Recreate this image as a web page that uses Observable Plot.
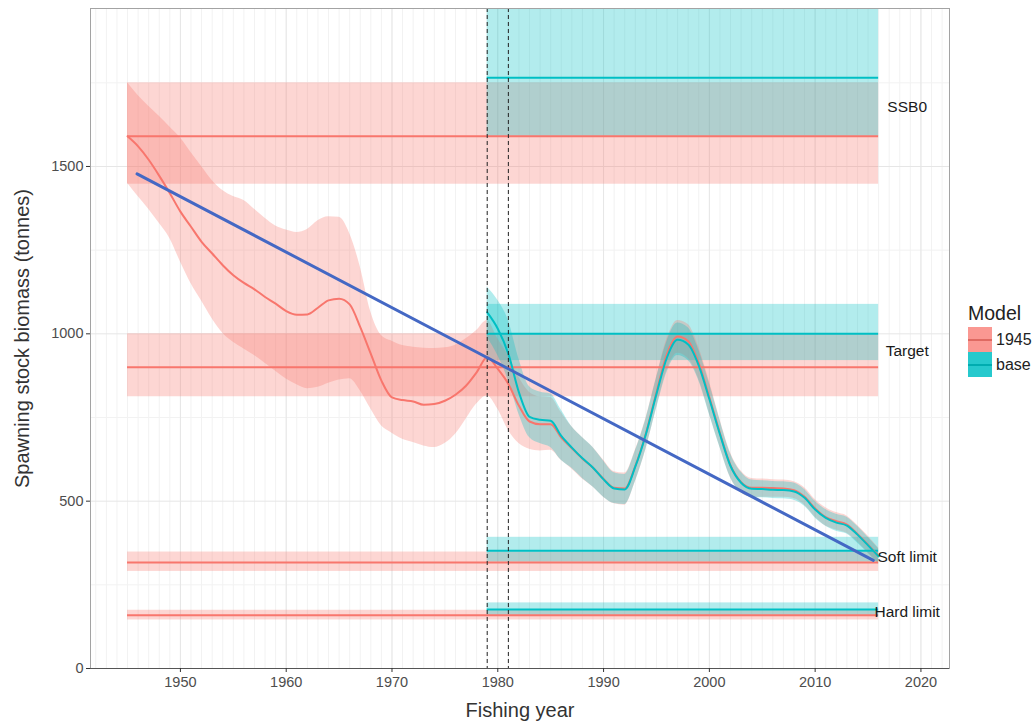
<!DOCTYPE html>
<html>
<head>
<meta charset="utf-8">
<script src="https://cdn.jsdelivr.net/npm/d3@7"></script>
<script src="https://cdn.jsdelivr.net/npm/@observablehq/plot@0.6"></script>
<style>
  body { margin: 0; background: #fff; font-family: "Liberation Sans", Arial, sans-serif; }
  #wrap { position: relative; width: 1033px; height: 724px; overflow: hidden; }
  #legend { position: absolute; left: 968px; top: 301px; color: #222; white-space: nowrap; }
  #legend .title { font-size: 19.5px; line-height: 24px; margin-bottom: 2px; }
  #legend .row { display: flex; align-items: center; height: 25px; }
  #legend .key { position: relative; width: 24px; height: 25px; margin-right: 4px; }
  #legend .key .ln { position: absolute; left: 0; right: 0; top: 11.5px; height: 2.5px; }
  #legend .lab { font-size: 16px; color: #222; }
</style>
</head>
<body>
<div id="wrap"></div>
<script>
// ---- Data ----
const models = ["1945", "base"];
const modelColors = ["#F8766D", "#00BFC4"];

// Model "1945" biomass series
const years1945 = [1945,1946,1947,1948,1949,1950,1951,1952,1953,1954,1955,1956,1957,1958,1959,1960,1961,1962,1963,1964,1965,1966,1967,1968,1969,1970,1971,1972,1973,1974,1975,1976,1977,1978,1979,1980,1981,1982,1983,1984,1985,1986,1987,1988,1989,1990,1991,1992,1993,1994,1995,1996,1997,1998,1999,2000,2001,2002,2003,2004,2005,2006,2007,2008,2009,2010,2011,2012,2013,2014,2015,2016];
const ssb1945 = [1590,1560,1520,1472,1420,1365,1320,1275,1240,1205,1175,1152,1133,1110,1090,1068,1057,1058,1078,1100,1105,1088,1020,940,860,810,802,798,788,790,800,818,845,885,930,895,850,785,738,730,730,690,658,627,600,566,540,538,605,702,825,940,992,978,912,810,703,607,557,540,540,539,538,533,513,478,452,440,430,402,370,336];
const hi1945 = [1750,1712,1680,1650,1618,1585,1542,1500,1458,1428,1410,1398,1372,1345,1322,1310,1303,1312,1338,1350,1348,1300,1200,1065,995,978,965,960,957,956,958,966,985,1010,1040,985,935,870,825,812,810,765,722,690,660,622,588,584,652,748,870,985,1040,1028,960,858,745,645,590,568,566,564,563,558,540,505,480,466,456,428,396,360];
const lo1945 = [1450,1410,1372,1330,1285,1215,1150,1098,1045,1002,975,955,935,912,888,865,848,836,840,852,862,866,830,775,725,703,685,675,665,660,672,700,745,790,815,775,712,672,655,650,652,622,596,566,542,512,492,488,558,654,778,892,942,926,864,762,662,570,525,512,512,512,512,508,488,452,426,414,404,378,346,312];

// Model "base" biomass series
const yearsBase = [1979,1980,1981,1982,1983,1984,1985,1986,1987,1988,1989,1990,1991,1992,1993,1994,1995,1996,1997,1998,1999,2000,2001,2002,2003,2004,2005,2006,2007,2008,2009,2010,2011,2012,2013,2014,2015,2016];
const ssbBase = [1064,1015,940,825,752,743,740,695,660,628,600,565,538,535,603,700,820,930,982,968,905,805,700,605,555,537,536,534,533,529,510,475,450,436,427,400,368,335];
const hiBase = [1140,1100,1040,925,842,826,820,772,722,690,660,620,585,580,650,745,868,978,1032,1018,952,852,742,642,587,563,561,559,558,554,535,500,475,461,452,425,392,358];
const loBase = [990,935,860,760,690,672,660,622,598,568,542,512,493,490,558,655,775,885,935,920,860,760,660,570,525,512,510,508,507,503,485,450,425,410,402,375,344,312];

// Reference points (SSB0, Target, Soft limit, Hard limit) per model
const refNames = ["SSB0", "Target", "Soft limit", "Hard limit"];
const refModel = ["1945","1945","1945","1945","base","base","base","base"];
const refName = ["SSB0","Target","Soft limit","Hard limit","SSB0","Target","Soft limit","Hard limit"];
const refValue = [1590, 900, 317, 159, 1765, 1000, 352, 176];
const refLow = [1447, 812, 290, 145, 1590, 920, 318, 159];
const refHigh = [1750, 1000, 348, 174, 1972, 1088, 392, 196];
const refStart = [1945, 1945, 1945, 1945, 1979, 1979, 1979, 1979];
const refEnd = [2016, 2016, 2016, 2016, 2016, 2016, 2016, 2016];
const labelYear = 2018.7;

// Dashed markers and overlaid trend line
const dashYears = [1979, 1981];
const trendYears = [1945.9, 2015.5];
const trendValues = [1478, 323];

// Axes
const xDomain = [1941.5, 2022.7];
const yDomain = [0, 1972];
const xTicks = [1950, 1960, 1970, 1980, 1990, 2000, 2010, 2020];
const yTicks = [0, 500, 1000, 1500];
const yMinor = [250, 750, 1250, 1750];
const xMinor = d3.range(1942, 2023);

// ---- Tables built from arrays ----
const series = [
  ...years1945.map((y, i) => ({model: "1945", year: y, ssb: ssb1945[i], lo: lo1945[i], hi: hi1945[i]})),
  ...yearsBase.map((y, i) => ({model: "base", year: y, ssb: ssbBase[i], lo: loBase[i], hi: hiBase[i]}))
];
const refs = refModel.map((m, i) => ({model: m, name: refName[i], value: refValue[i], lo: refLow[i], hi: refHigh[i], start: refStart[i], end: refEnd[i]}));
const labels = refNames.map(n => ({name: n, value: d3.mean(refs.filter(r => r.name === n), r => r.value)}));
const trend = trendYears.map((y, i) => ({year: y, value: trendValues[i]}));

const chart = Plot.plot({
  width: 1033,
  height: 724,
  marginLeft: 90,
  marginRight: 84,
  marginTop: 8,
  marginBottom: 56,
  style: {fontFamily: "'Liberation Sans', Arial, sans-serif", background: "white"},
  x: {domain: xDomain},
  y: {domain: yDomain},
  color: {domain: models, range: modelColors},
  marks: [
    Plot.ruleX(xMinor, {stroke: "#f2f2f2", strokeWidth: 1}),
    Plot.ruleY(yMinor, {stroke: "#f2f2f2", strokeWidth: 1}),
    Plot.ruleX(xTicks, {stroke: "#e6e6e6", strokeWidth: 1}),
    Plot.ruleY(yTicks, {stroke: "#e6e6e6", strokeWidth: 1}),
    Plot.rect(refs, {x1: "start", x2: "end", y1: "lo", y2: "hi", fill: "model", fillOpacity: 0.3}),
    Plot.areaY(series, {x: "year", y1: "lo", y2: "hi", z: "model", fill: "model", fillOpacity: 0.3, curve: "monotone-x"}),
    Plot.ruleY(refs, {y: "value", x1: "start", x2: "end", stroke: "model", strokeWidth: 2}),
    Plot.line(series, {x: "year", y: "ssb", z: "model", stroke: "model", strokeWidth: 2, curve: "monotone-x"}),
    Plot.ruleX(dashYears, {stroke: "#222", strokeWidth: 1, strokeDasharray: "4,3"}),
    Plot.text(labels, {x: labelYear, y: "value", text: "name", fontSize: 15.5, fill: "#1a1a1a", textAnchor: "middle"}),
    Plot.line(trend, {x: "year", y: "value", stroke: "#4468C4", strokeWidth: 3}),
    Plot.frame({stroke: "#a3a3a3", strokeWidth: 1}),
    Plot.ruleY([0], {stroke: "#555", strokeWidth: 1.2}),
    Plot.axisX({ticks: xTicks, tickFormat: "d", tickSize: 4, tickPadding: 4, fontSize: 14.5, stroke: "#333", color: "#4d4d4d", label: null}),
    Plot.axisY({ticks: yTicks, tickFormat: "d", tickSize: 4, tickPadding: 3, fontSize: 14.5, stroke: "#333", color: "#4d4d4d", label: null}),
    Plot.text(["Fishing year"], {frameAnchor: "bottom", dy: 48, fontSize: 20, fill: "#333", textAnchor: "middle"}),
    Plot.text(["Spawning stock biomass (tonnes)"], {frameAnchor: "left", dx: -68, rotate: -90, fontSize: 20, fill: "#333", textAnchor: "middle"})
  ]
});

const wrap = document.getElementById("wrap");
wrap.appendChild(chart);

// Legend (HTML) built from model arrays
const legend = document.createElement("div");
legend.id = "legend";
legend.innerHTML = `<div class="title">Model</div>` + models.map((m, i) =>
  `<div class="row"><div class="key" style="background:${d3.color(modelColors[i]).copy({opacity: i === 0 ? 0.75 : 0.85})}"><div class="ln" style="background:${modelColors[i]};filter:brightness(0.9)"></div></div><span class="lab">${m}</span></div>`
).join("");
wrap.appendChild(legend);
</script>
</body>
</html>
